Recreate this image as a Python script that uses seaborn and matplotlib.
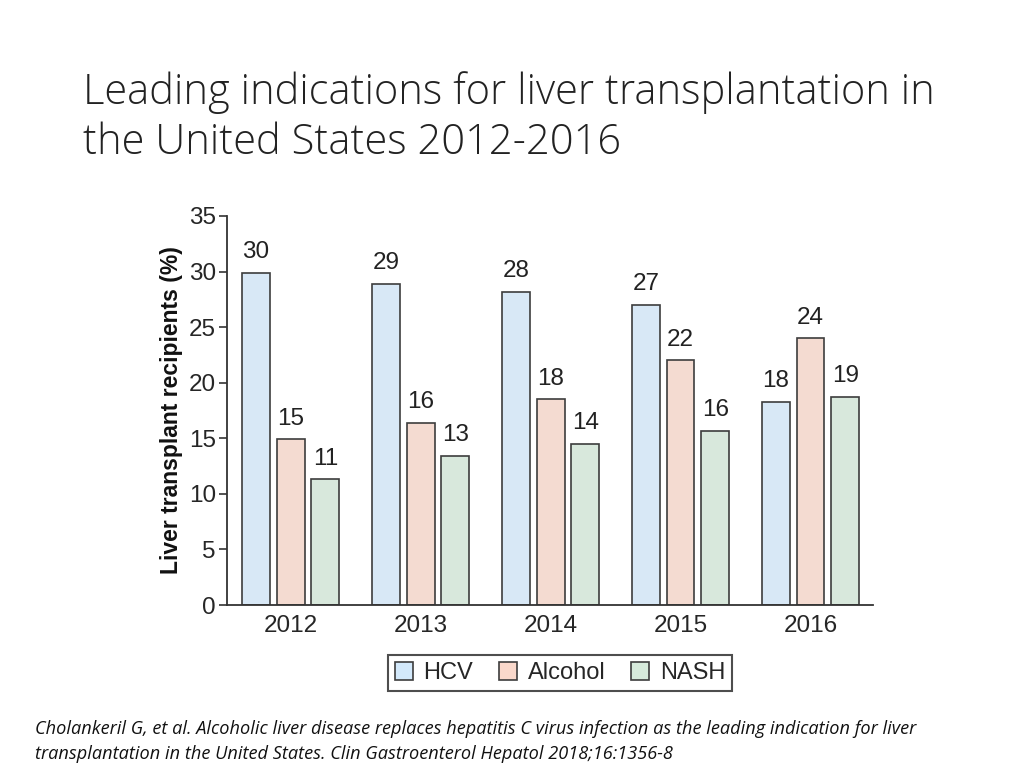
import pandas as pd
import seaborn as sns
import matplotlib.pyplot as plt
from matplotlib.patches import Patch

# Values
years = ["2012", "2013", "2014", "2015", "2016"]
hcv = [29.85, 28.9, 28.2, 27.0, 18.3]
alcohol = [14.9, 16.4, 18.5, 22.0, 24.0]
nash = [11.3, 13.4, 14.5, 15.7, 18.7]
labels_hcv = [30, 29, 28, 27, 18]
labels_alcohol = [15, 16, 18, 22, 24]
labels_nash = [11, 13, 14, 16, 19]
indications = ["HCV", "Alcohol", "NASH"]
colors = ["#d3e9fb", "#fad8cb", "#d6eadb"]

df = pd.DataFrame({
    "Year": years * 3,
    "Indication": [i for i in indications for _ in years],
    "Value": hcv + alcohol + nash,
})

sns.set_style("white")
plt.rcParams["font.family"] = ["Liberation Sans", "DejaVu Sans"]

fig = plt.figure(figsize=(10.24, 7.68), dpi=100)
ax = fig.add_axes([0.2217, 0.2122, 0.6308, 0.5066])

sns.barplot(data=df, x="Year", y="Value", hue="Indication", palette=colors,
            width=0.8, gap=0.2, edgecolor="#3d3d3d", linewidth=1.2,
            legend=False, ax=ax)

# value labels above bars
all_labels = [labels_hcv, labels_alcohol, labels_nash]
for cont, labs in zip(ax.containers, all_labels):
    ax.bar_label(cont, labels=[str(v) for v in labs], padding=7, fontsize=17.5, color="#222222")

ax.set_ylim(0, 35)
ax.set_xlim(-0.49, 4.48)
ax.set_yticks(range(0, 36, 5))
ax.set_xlabel("")
ax.set_ylabel("Liver transplant recipients (%)", fontsize=16.5, fontweight="bold", color="#111111", labelpad=4)
ax.tick_params(axis="y", labelsize=17.5, length=6, width=1.2, color="#333333", direction="out", left=True, pad=2)
ax.tick_params(axis="x", labelsize=17.5, length=0, pad=7)
sns.despine(ax=ax)
for s in ["left", "bottom"]:
    ax.spines[s].set_color("#333333")
    ax.spines[s].set_linewidth(1.3)

handles = [Patch(facecolor=c, edgecolor="#3d3d3d", linewidth=1.2) for c in colors]
leg = fig.legend(handles, indications, loc="center", bbox_to_anchor=(0.547, 0.1235), ncol=3,
                 frameon=True, fancybox=False, fontsize=17, handlelength=0.75, handleheight=0.75,
                 handletextpad=0.45, columnspacing=1.1, borderpad=0.3, edgecolor="#222222")
leg.get_frame().set_linewidth(1.5)

fig.text(0.081, 0.847, "Leading indications for liver transplantation in\nthe United States 2012-2016",
         fontsize=30, family=["Open Sans", "DejaVu Sans"], fontweight="light", color="#222222",
         linespacing=1.25, va="center")

fig.text(0.034, 0.012, "Cholankeril G, et al. Alcoholic liver disease replaces hepatitis C virus infection as the leading indication for liver\n"
         "transplantation in the United States. Clin Gastroenterol Hepatol 2018;16:1356-8",
         fontsize=13.1, style="italic", family=["Open Sans", "DejaVu Sans"], color="#111111", linespacing=1.45)

plt.savefig("out.png", dpi=100)
